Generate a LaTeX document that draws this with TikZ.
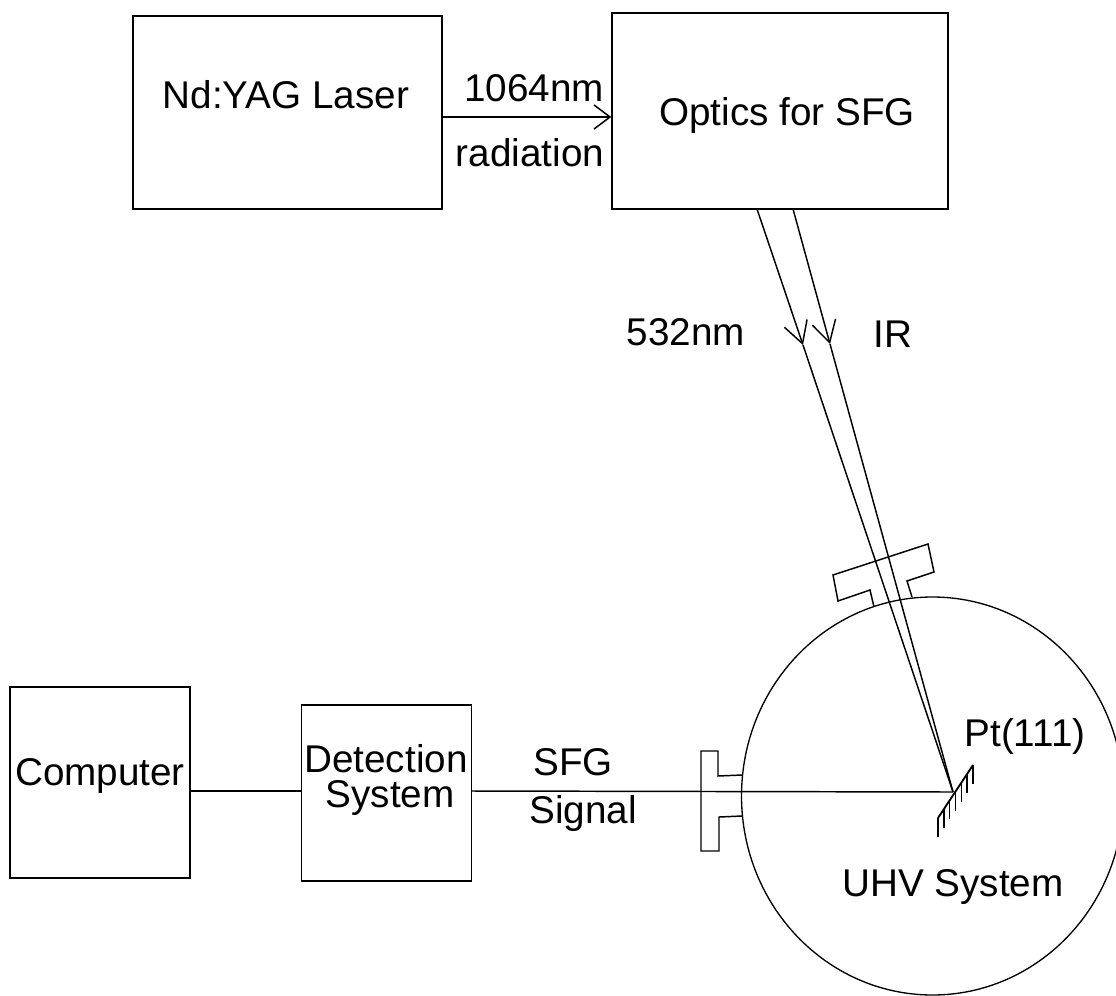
\documentclass[tikz,border=0pt]{standalone}
\usepackage{fontspec}
\setmainfont{Liberation Sans}
\usetikzlibrary{arrows.meta,calc,shapes.geometric}
\tikzset{
  wire/.style={line width=1.1pt},
  beam/.style={line width=1.1pt,-{Straight Barb[length=16pt,width=18pt,line width=1.1pt]}},
  lab/.style={inner sep=0pt,font=\fontsize{29}{34}\selectfont,align=center},
  box/.style={draw,line width=1.1pt,inner sep=0pt}
}
\begin{document}
\begin{tikzpicture}[x=0.75pt,y=-0.75pt]
            \useasboundingbox (0,0) rectangle (1116,995);
            \node[box,minimum width=231.75pt,minimum height=144.75pt] (laser) at (287.5,112.5) {};
            \node[box,minimum width=252pt,minimum height=147pt] (optics) at (780,111) {};
            \node[box,minimum width=135pt,minimum height=143.25pt] (computer) at (100,782.5) {};
            \node[box,minimum width=127.5pt,minimum height=132pt] (detection) at (386.5,793) {};
            \node[draw,ellipse,line width=1pt,inner sep=0pt,minimum width=286.5pt,minimum height=298.5pt] (uhv) at (932.5,796) {};
            \node[lab] (lasertext) at (286,95) {Nd:YAG Laser};
            \node[lab] (wavetext) at (534,88) {1064nm};
            \node[lab] (radtext) at (530,153) {radiation};
            \node[lab] (opticstext) at (787,116) {Optics for SFG};
            \node[lab] (greentext) at (686,332) {532nm};
            \node[lab] (irtext) at (893,334) {IR};
            \node[lab] (computertext) at (100,776) {Computer};
            \node[lab] (detecttext) at (386,759) {Detection};
            \node[lab] (systext) at (390,798) {System};
            \node[lab] (sfgtext) at (573,762) {SFG};
            \node[lab] (signaltext) at (583,813) {Signal};
            \node[lab] (pttext) at (1025,736) {Pt(111)};
            \node[lab] (uhvtext) at (953,887) {UHV System};
            \coordinate (target) at (953,792);
            \coordinate (greenstart) at (757,209);
            \coordinate (irstart) at (793,209);
            \coordinate (greentip) at (803,345);
            \coordinate (irtip) at (830,344);
            \coordinate (mirrortop) at (973,765);
            \coordinate (mirrorend) at (938,818);
            \draw[wire,-{Straight Barb[length=12pt,width=18pt,line width=1.1pt]}] (laser.east |- 0,117) -- (optics.west |- 0,117);
            \draw[wire] (computer.east |- 0,791) -- (detection.west |- 0,791);
            \draw[wire] (detection.east |- 0,791) -- (target);
            \draw[beam] (greenstart) -- (greentip);
            \draw[beam] (irstart) -- (irtip);
            \draw[wire] (greentip) -- (target);
            \draw[wire] (irtip) -- (target);
            \draw[wire] (874,607) -- (870,590) -- (838,601) -- (833,575) -- (928,544) -- (934,572) -- (907,581) -- (912,597);
            \draw[wire] (742,775) -- (718,776) -- (718,751) -- (701,751) -- (701,851) -- (719,851) -- (719,817) -- (742,816);
            \draw[line width=1.4pt] (mirrorend) -- (mirrortop);
            \foreach \t in {0,0.1667,...,1.01} {
                \draw[wire] ($(mirrorend)!\t!(mirrortop)$) -- ++(0,19);
            }
        \end{tikzpicture}
\end{document}
